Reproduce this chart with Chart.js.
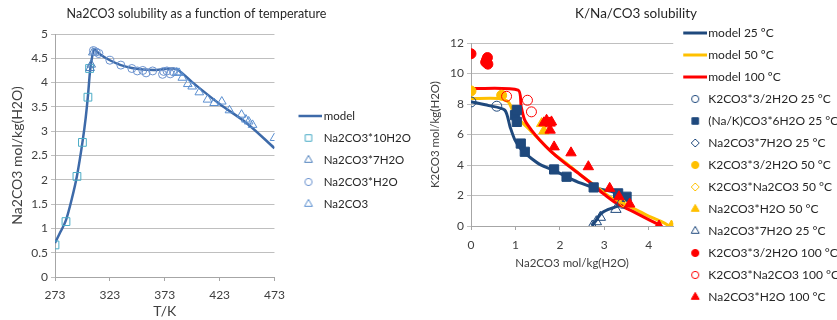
<!DOCTYPE html>
<html>
<head>
<meta charset="utf-8">
<script src="https://cdn.jsdelivr.net/npm/chart.js@4.4.1/dist/chart.umd.min.js"></script>
<style>
  html, body { margin: 0; padding: 0; background: #fff; overflow: hidden; width: 837px; height: 320px; }
  canvas { position: absolute; top: 0; display: block; }
</style>
</head>
<body>
<canvas id="tempChart"></canvas>
<canvas id="mixChart"></canvas>
<script>
// ---- Na2CO3 solubility vs temperature ----
const modelT = [273, 278, 283, 288, 293, 298, 301, 303, 305, 307, 308.6, 313, 323, 333, 343, 353, 363, 373, 381, 385, 398, 423, 448, 473];
const modelV = [0.70, 0.93, 1.17, 1.58, 2.08, 2.77, 3.28, 3.72, 4.25, 4.55, 4.69, 4.60, 4.46, 4.36, 4.30, 4.27, 4.26, 4.28, 4.29, 4.26, 4.01, 3.56, 3.16, 2.65];

const decaT = [273, 283, 293, 298, 303, 304.5];
const decaV = [0.66, 1.14, 2.07, 2.77, 3.70, 4.29];

const heptaT = [305, 306, 307.5];
const heptaV = [4.30, 4.37, 4.62];

const monoT = [308, 310.5, 313, 323, 333, 343, 348, 353, 356, 362, 371, 372, 375, 378, 381];
const monoV = [4.66, 4.63, 4.60, 4.46, 4.36, 4.29, 4.24, 4.25, 4.20, 4.24, 4.17, 4.23, 4.24, 4.18, 4.22];

const anhT = [384, 386, 389, 394, 398, 404.5, 412, 418, 425, 432, 443, 447, 449.5, 453, 473];
const anhV = [4.21, 4.20, 4.10, 3.97, 3.92, 3.80, 3.65, 3.58, 3.61, 3.43, 3.34, 3.24, 3.20, 3.13, 2.86];

const tempTicks = [273, 323, 373, 423, 473];

// ---- K2CO3 / Na2CO3 phase diagram ----
const m25x = [0, 0.40, 0.76, 0.88, 0.99, 1.14, 1.36, 1.58, 1.85, 2.15, 2.49, 2.75, 3.12, 3.47, 3.42, 3.27, 3.09, 2.93, 2.82, 2.72];
const m25y = [8.15, 7.90, 7.60, 6.50, 5.63, 4.98, 4.43, 3.99, 3.67, 3.23, 2.79, 2.53, 2.29, 1.98, 1.50, 1.27, 1.09, 0.83, 0.39, 0];

const m50x = [0, 0.64, 0.84, 0.95, 1.10, 1.33, 1.55, 1.81, 2.15, 2.52, 2.82, 3.12, 3.50, 3.95, 4.25, 4.47];
const m50y = [8.36, 8.36, 8.14, 7.49, 6.94, 6.29, 5.63, 4.87, 4.10, 3.23, 2.58, 1.92, 1.38, 0.72, 0.33, 0];

const m100x = [0, 1.06, 1.13, 1.21, 1.36, 1.55, 1.78, 2.07, 2.45, 2.75, 2.97, 3.27, 3.65, 4.02, 4.25];
const m100y = [9.02, 8.91, 7.81, 6.94, 6.29, 5.63, 4.95, 4.22, 3.38, 2.69, 2.14, 1.49, 0.94, 0.39, 0.05];

const k25x = [0, 0.58, 3.41];
const k25y = [8.14, 7.86, 1.49];
const dbl6x = [0.99, 1.03, 1.03, 1.12, 1.21, 1.87, 2.15, 2.76, 3.31, 3.50];
const dbl6y = [7.27, 7.60, 6.83, 5.41, 4.87, 3.71, 3.23, 2.53, 2.14, 1.92];
const hept25Dx = [];
const hept25Dy = [];
const k50x = [0, 0.69];
const k50y = [8.86, 8.58];
const dbl50x = [3.42];
const dbl50y = [1.50];
const mono50x = [1.59, 1.64, 4.51];
const mono50y = [6.72, 6.24, 0];
const hept25x = [2.73, 2.82, 2.91, 3.26];
const hept25y = [0, 0.28, 0.57, 1.09];
const k100x = [0, 0.33, 0.35, 0.37, 0.38];
const k100y = [11.30, 10.75, 10.90, 11.05, 10.62];
const dbl100x = [0.80, 1.27, 1.36, 1.75];
const dbl100y = [8.51, 8.25, 7.49, 6.80];
const mono100x = [1.64, 1.70, 1.78, 1.81, 1.78, 1.87, 2.25, 2.64, 3.12, 3.33, 3.57, 4.23];
const mono100y = [6.77, 6.94, 6.75, 6.83, 6.29, 5.19, 4.80, 3.89, 2.47, 1.92, 1.44, 0];

const mixTicks = [0, 1, 2, 3, 4];

const pts = (xs, ys) => xs.map((x, i) => ({ x: x, y: ys[i] }));

const FONT = 'Lato, "Liberation Sans", sans-serif';
Chart.defaults.font.family = FONT;
Chart.defaults.color = '#404040';

const H = 320;
const gridGrey = '#bfbfbf';
const axisGrey = '#a6a6a6';

// later datasets sit on top, legend keeps dataset order
function stackOrder(datasets) {
  datasets.forEach((d, i) => { d.order = datasets.length - i; });
  return datasets;
}

function lineSet(label, data, color, width) {
  return {
    label: label, data: data, showLine: true,
    borderColor: color, borderWidth: width,
    pointRadius: 0, pointHoverRadius: 0
  };
}

function markSet(label, data, style, color, filled, radius) {
  return {
    label: label, data: data, showLine: false,
    pointStyle: style, pointRadius: radius,
    pointBorderColor: color, pointBorderWidth: 1,
    pointBackgroundColor: filled ? color : 'rgba(255,255,255,0)',
    borderColor: color, backgroundColor: filled ? color : 'rgba(255,255,255,0)'
  };
}

// legend symbol drawn into a small canvas; positions are relative to the item's left edge
const legendRadius = { circle: 3.6, rect: 4.6, triangle: 4.6, rectRot: 4 };
function legendIcon(ds, boxW, lineFrom, lineTo, markAt) {
  const half = Math.max(boxW / 2, lineTo - boxW / 2, boxW / 2 - lineFrom);
  const c = document.createElement('canvas');
  c.width = Math.ceil(half * 2);
  c.height = 14;
  const shift = c.width / 2 - boxW / 2;
  const g = c.getContext('2d');
  if (ds.showLine) {
    g.strokeStyle = ds.borderColor;
    g.lineWidth = ds.borderWidth;
    g.beginPath();
    g.moveTo(lineFrom + shift, 7);
    g.lineTo(lineTo + shift, 7);
    g.stroke();
  } else {
    g.strokeStyle = ds.pointBorderColor;
    g.fillStyle = ds.pointBackgroundColor;
    g.lineWidth = 1;
    Chart.helpers.drawPoint(g, {
      pointStyle: ds.pointStyle, radius: legendRadius[ds.pointStyle], rotation: 0, borderWidth: 1
    }, markAt + shift, 7);
  }
  return c;
}

function legendLabels(icons) {
  return chart => Chart.defaults.plugins.legend.labels.generateLabels(chart).map(item => {
    item.pointStyle = icons[item.datasetIndex];
    item.rotation = 0;
    return item;
  });
}

function textWidth(labels, size) {
  const g = document.createElement('canvas').getContext('2d');
  g.font = size + 'px ' + FONT;
  return Math.max(...labels.map(t => g.measureText(t).width));
}

// size and place a canvas so that its title is centred on titleX and the legend starts at legendX
function placeCanvas(canvas, datasets, fontSize, pad, boxW, titleX, legendX) {
  const legendW = pad + boxW + fontSize / 2 + textWidth(datasets.map(d => d.label), fontSize) + 10;
  const width = Math.round(2 * (legendX + legendW - titleX));
  const left = Math.round(titleX - width / 2);
  canvas.width = width;
  canvas.height = H;
  canvas.style.width = width + 'px';
  canvas.style.height = H + 'px';
  canvas.style.left = left + 'px';
  return left;
}

// ---------------- left chart ----------------
const tempModel = lineSet('model', pts(modelT, modelV), '#3d6aa9', 2.5);
tempModel.cubicInterpolationMode = 'monotone';

const tempSets = stackOrder([
  tempModel,
  markSet('Na2CO3*10H2O', pts(decaT, decaV), 'rect', '#4bacc6', false, 5.5),
  markSet('Na2CO3*7H2O', pts(heptaT, heptaV), 'triangle', '#4f81bd', false, 5),
  markSet('Na2CO3*H2O', pts(monoT, monoV), 'circle', '#6c93cf', false, 4),
  markSet('Na2CO3', pts(anhT, anhV), 'triangle', '#5b8fd0', false, 5)
]);
const tempIcons = tempSets.map(d => legendIcon(d, 33, 13.5, 37.5, 23.5));
const tempCanvas = document.getElementById('tempChart');
const tempLeft = placeCanvas(tempCanvas, tempSets, 11.5, 10.5, 33, 196, 274);

new Chart(tempCanvas, {
  type: 'scatter',
  data: { datasets: tempSets },
  options: {
    animation: false,
    responsive: false,
    devicePixelRatio: 1,
    layout: { padding: 0 },
    plugins: {
      title: {
        display: true,
        text: 'Na2CO3 solubility as a function of temperature',
        color: '#262626',
        weight: 500,
        font: { size: 12.5, weight: 'normal' },
        padding: { top: 6, bottom: 13 }
      },
      legend: {
        position: 'right',
        maxWidth: 1000,
        labels: {
          usePointStyle: true, pointStyleWidth: 33, boxHeight: 11.5,
          padding: 10.5, color: '#262626', font: { size: 11.5 },
          generateLabels: legendLabels(tempIcons),
          sort: (a, b) => a.datasetIndex - b.datasetIndex
        }
      },
      tooltip: { enabled: false }
    },
    scales: {
      x: {
        type: 'linear', min: 273, max: 473,
        afterBuildTicks: axis => { axis.ticks = tempTicks.map(v => ({ value: v })); },
        afterFit: axis => { axis.height = H - 277; },
        ticks: { font: { size: 12 }, padding: 7, maxRotation: 0 },
        grid: { drawOnChartArea: false, tickLength: 4, color: axisGrey },
        border: { color: axisGrey },
        title: { display: true, text: 'T/K', font: { size: 14 }, padding: { top: 2, bottom: 0 } }
      },
      y: {
        min: 0, max: 5,
        afterFit: axis => { axis.width = 55 - tempLeft; },
        ticks: { stepSize: 0.5, font: { size: 12 }, padding: 3, callback: v => String(v) },
        grid: { color: gridGrey, tickLength: 4 },
        border: { color: axisGrey },
        title: { display: true, text: 'Na2CO3 mol/kg(H2O)', font: { size: 14 }, padding: { top: 17 - tempLeft - 8.4, bottom: 0 } }
      }
    }
  }
});

// ---------------- right chart ----------------
const blue = '#1f497d', yellow = '#ffc000', red = '#ff0000';

const mixSets = stackOrder([
  lineSet('model 25 ºC', pts(m25x, m25y), blue, 3),
  lineSet('model 50 ºC', pts(m50x, m50y), yellow, 3),
  lineSet('model 100 ºC', pts(m100x, m100y), red, 3),
  markSet('K2CO3*3/2H2O 25 °C', pts(k25x, k25y), 'circle', blue, false, 5),
  markSet('(Na/K)CO3*6H2O 25 °C', pts(dbl6x, dbl6y), 'rect', blue, true, 6.5),
  markSet('Na2CO3*7H2O 25 °C', pts(hept25Dx, hept25Dy), 'rectRot', blue, false, 5),
  markSet('K2CO3*3/2H2O 50 °C', pts(k50x, k50y), 'circle', yellow, true, 5),
  markSet('K2CO3*Na2CO3 50 °C', pts(dbl50x, dbl50y), 'rectRot', yellow, false, 4),
  markSet('Na2CO3*H2O 50 °C', pts(mono50x, mono50y), 'triangle', yellow, true, 6),
  markSet('Na2CO3*7H2O 25 °C', pts(hept25x, hept25y), 'triangle', blue, false, 6),
  markSet('K2CO3*3/2H2O 100 °C', pts(k100x, k100y), 'circle', red, true, 5),
  markSet('K2CO3*Na2CO3 100 °C', pts(dbl100x, dbl100y), 'circle', red, false, 5),
  markSet('Na2CO3*H2O 100 °C', pts(mono100x, mono100y), 'triangle', red, true, 6)
]);
mixSets.forEach(d => { if (d.showLine) d.tension = 0.25; });
const mixIcons = mixSets.map(d => legendIcon(d, 19, 0, 24, 12));
const mixCanvas = document.getElementById('mixChart');
const mixLeft = placeCanvas(mixCanvas, mixSets, 12, 10, 19, 636, 673);

new Chart(mixCanvas, {
  type: 'scatter',
  data: { datasets: mixSets },
  options: {
    animation: false,
    responsive: false,
    devicePixelRatio: 1,
    layout: { padding: { left: 0, right: 0, top: 10, bottom: 0 } },
    plugins: {
      title: {
        display: true,
        text: 'K/Na/CO3 solubility',
        color: '#262626',
        weight: 500,
        font: { size: 13.5, weight: 'normal', lineHeight: 0.6 },
        padding: { top: 0, bottom: 25 }
      },
      legend: {
        position: 'right',
        maxWidth: 1000,
        labels: {
          usePointStyle: true, pointStyleWidth: 19, boxHeight: 12,
          padding: 10, color: '#262626', font: { size: 12 },
          generateLabels: legendLabels(mixIcons),
          sort: (a, b) => a.datasetIndex - b.datasetIndex
        }
      },
      tooltip: { enabled: false }
    },
    scales: {
      x: {
        type: 'linear', min: 0, max: 4.55,
        afterBuildTicks: axis => { axis.ticks = mixTicks.map(v => ({ value: v })); },
        afterFit: axis => { axis.height = H - 226; },
        ticks: { font: { size: 12 }, padding: 8, maxRotation: 0 },
        grid: { drawOnChartArea: false, tickLength: 4, color: axisGrey },
        border: { color: axisGrey },
        title: { display: true, text: 'Na2CO3 mol/kg(H2O)', font: { size: 11.5 }, padding: { top: 4, bottom: 50 } }
      },
      y: {
        min: 0, max: 12,
        afterFit: axis => { axis.width = 471 - mixLeft; },
        ticks: { stepSize: 2, font: { size: 12 }, padding: 3 },
        grid: { color: gridGrey, tickLength: 4 },
        border: { color: axisGrey },
        title: { display: true, text: 'K2CO3 mol/kg(H2O)', font: { size: 11.5 }, padding: { top: 435 - mixLeft - 6.9, bottom: 0 } }
      }
    }
  }
});
</script>
</body>
</html>
